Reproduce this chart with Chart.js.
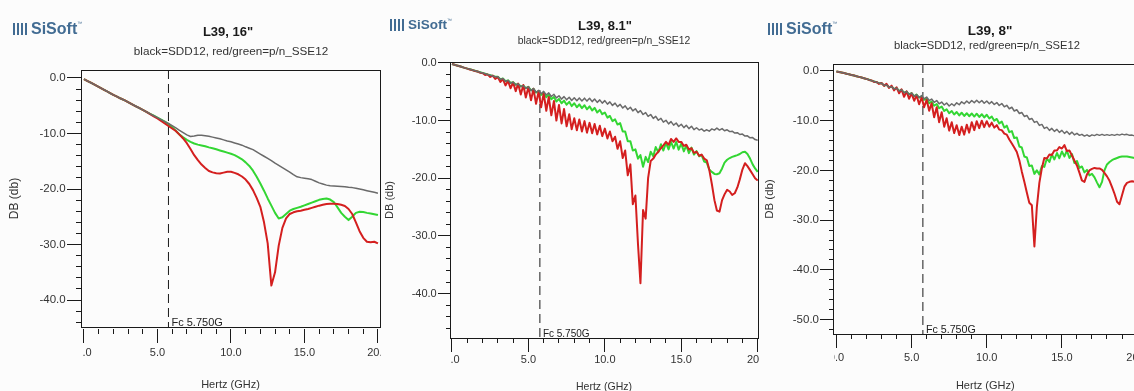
<!DOCTYPE html>
<html>
<head>
<meta charset="utf-8">
<script src="https://cdn.jsdelivr.net/npm/chart.js@4/dist/chart.umd.min.js"></script>
<style>
  html, body { margin: 0; padding: 0; background: #fff; }
  body { width: 1134px; height: 391px; position: relative; overflow: hidden; font-family: "Liberation Sans", Arial, sans-serif; }
  .panel { position: absolute; top: 0; height: 391px; overflow: hidden; background: #fcfcfc; }
  .panel canvas { position: absolute; left: 0; top: 0; }
  .logo { position: absolute; display: flex; align-items: center; color: #426c93; font-weight: bold; line-height: 1; }
  .logo .mark { display: inline-block; width: 14px; height: 12px; margin-right: 4px;
    background: repeating-linear-gradient(90deg, #426c93 0 2px, transparent 2px 4px); }
  .logo sup { font-size: 5px; font-weight: normal; align-self: flex-start; }
  .title, .subtitle { position: absolute; transform: translate(-50%, -50%); white-space: nowrap; line-height: 1; }
  .title { font-weight: bold; color: #1a1a1a; }
  .subtitle { color: #333; }
</style>
</head>
<body>
<div class="panel" style="left:0;width:381px;z-index:1">
  <canvas id="c1" width="420" height="400"></canvas>
  <div class="logo" style="left:13px;top:21px;font-size:16px"><span class="mark"></span>SiSoft<sup>™</sup></div>
  <div class="title" style="left:228px;top:31px;font-size:13px">L39, 16"</div>
  <div class="subtitle" style="left:231px;top:51px;font-size:11.7px">black=SDD12, red/green=p/n_SSE12</div>
</div>
<div class="panel" style="left:381px;width:379px;z-index:2">
  <canvas id="c2" width="420" height="400"></canvas>
  <div class="logo" style="left:9px;top:18px;font-size:13.5px"><span class="mark"></span>SiSoft<sup>™</sup></div>
  <div class="title" style="left:224px;top:25px;font-size:13px">L39, 8.1"</div>
  <div class="subtitle" style="left:223px;top:41px;font-size:10.4px">black=SDD12, red/green=p/n_SSE12</div>
</div>
<div class="panel" style="left:760px;width:374px;z-index:3">
  <canvas id="c3" width="420" height="400"></canvas>
  <div class="logo" style="left:8px;top:21px;font-size:16px"><span class="mark"></span>SiSoft<sup>™</sup></div>
  <div class="title" style="left:230px;top:31px;font-size:13.5px">L39, 8"</div>
  <div class="subtitle" style="left:227px;top:46px;font-size:11.2px">black=SDD12, red/green=p/n_SSE12</div>
</div>

<script>
// cutoff frequency marker (GHz)
const fcFreq = 5.75

// ---- panel 1: L39, 16" (0.25 GHz steps) ----
const p1Freq = [
  0, 0.25, 0.5, 0.75, 1, 1.25, 1.5, 1.75, 2, 2.25, 2.5, 2.75, 3, 3.25, 3.5, 3.75, 4, 4.25, 4.5, 4.75,
  5, 5.25, 5.5, 5.75, 6, 6.25, 6.5, 6.75, 7, 7.25, 7.5, 7.75, 8, 8.25, 8.5, 8.75, 9, 9.25, 9.5, 9.75,
  10, 10.25, 10.5, 10.75, 11, 11.25, 11.5, 11.75, 12, 12.25, 12.5, 12.75, 13, 13.25, 13.5, 13.75, 14, 14.25, 14.5, 14.75,
  15, 15.25, 15.5, 15.75, 16, 16.25, 16.5, 16.75, 17, 17.25, 17.5, 17.75, 18, 18.25, 18.5, 18.75, 19, 19.25, 19.5, 19.75,
  20
]
const p1Sdd = [
  -0.2, -0.55, -0.9, -1.25, -1.6, -1.95, -2.3, -2.7, -3.05, -3.35, -3.7, -4.0, -4.35, -4.7, -5.05, -5.4, -5.75, -6.1, -6.45, -6.8,
  -7.15, -7.5, -7.85, -8.2, -8.6, -9.0, -9.45, -9.85, -10.25, -10.55, -10.45, -10.3, -10.3, -10.4, -10.5, -10.65, -10.8, -10.95, -11.15, -11.35,
  -11.5, -11.7, -11.9, -12.1, -12.4, -12.65, -12.9, -13.3, -13.7, -14.1, -14.5, -14.9, -15.35, -15.75, -16.15, -16.55, -16.95, -17.4, -17.8, -17.95,
  -18.05, -18.15, -18.3, -18.6, -18.9, -19.1, -19.3, -19.4, -19.45, -19.5, -19.55, -19.6, -19.7, -19.75, -19.85, -20.0, -20.15, -20.3, -20.45, -20.6,
  -20.75
]
const p1SseP = [
  -0.2, -0.55, -0.9, -1.25, -1.6, -1.95, -2.3, -2.7, -3.05, -3.35, -3.7, -4.0, -4.35, -4.7, -5.05, -5.4, -5.75, -6.1, -6.5, -6.9,
  -7.3, -7.75, -8.2, -8.65, -9.1, -9.55, -10.2, -10.9, -11.75, -12.8, -13.9, -14.8, -15.6, -16.2, -16.75, -17.0, -17.15, -17.2, -17.05, -16.9,
  -16.9, -17.1, -17.35, -17.75, -18.3, -19.1, -20.2, -21.6, -23.2, -26.0, -29.8, -37.4, -35.0, -30.2, -27.0, -25.3, -24.5, -24.2, -24.0, -23.9,
  -23.75, -23.6, -23.4, -23.2, -23.0, -22.85, -22.7, -22.65, -22.65, -22.7, -22.85, -23.05, -23.6, -24.5, -26.0, -27.6, -28.8, -29.5, -29.6, -29.5,
  -29.8
]
const p1SseN = [
  -0.2, -0.55, -0.9, -1.25, -1.6, -1.95, -2.3, -2.7, -3.05, -3.35, -3.7, -4.0, -4.35, -4.7, -5.05, -5.4, -5.75, -6.1, -6.45, -6.8,
  -7.15, -7.5, -7.85, -8.3, -8.85, -9.5, -10.2, -10.7, -11.15, -11.5, -11.8, -12.0, -12.15, -12.3, -12.5, -12.65, -12.85, -13.05, -13.25, -13.45,
  -13.65, -13.9, -14.25, -14.65, -15.2, -15.85, -16.7, -17.8, -19.0, -20.3, -21.7, -23.0, -24.3, -25.3, -25.1, -24.5, -23.9, -23.6, -23.4, -23.2,
  -22.95, -22.7, -22.45, -22.2, -21.95, -21.8, -21.7, -21.9, -22.35, -23.3, -24.3, -25.0, -25.6, -25.0, -24.3, -24.1, -24.15, -24.3, -24.4, -24.55,
  -24.7
]

// ---- panels 2 and 3 share a 1/6 GHz grid (the ripple needs it) ----
const rippleFreq = [
  0, 0.17, 0.33, 0.5, 0.67, 0.83,
  1, 1.17, 1.33, 1.5, 1.67, 1.83,
  2, 2.17, 2.33, 2.5, 2.67, 2.83,
  3, 3.17, 3.33, 3.5, 3.67, 3.83,
  4, 4.17, 4.33, 4.5, 4.67, 4.83,
  5, 5.17, 5.33, 5.5, 5.67, 5.83,
  6, 6.17, 6.33, 6.5, 6.67, 6.83,
  7, 7.17, 7.33, 7.5, 7.67, 7.83,
  8, 8.17, 8.33, 8.5, 8.67, 8.83,
  9, 9.17, 9.33, 9.5, 9.67, 9.83,
  10, 10.17, 10.33, 10.5, 10.67, 10.83,
  11, 11.17, 11.33, 11.5, 11.67, 11.83,
  12, 12.17, 12.33, 12.5, 12.67, 12.83,
  13, 13.17, 13.33, 13.5, 13.67, 13.83,
  14, 14.17, 14.33, 14.5, 14.67, 14.83,
  15, 15.17, 15.33, 15.5, 15.67, 15.83,
  16, 16.17, 16.33, 16.5, 16.67, 16.83,
  17, 17.17, 17.33, 17.5, 17.67, 17.83,
  18, 18.17, 18.33, 18.5, 18.67, 18.83,
  19, 19.17, 19.33, 19.5, 19.67, 19.83,
  20
]

// ---- panel 2: L39, 8.1" ----
const p2Sdd = [
  -0.2, -0.33, -0.47, -0.6, -0.73, -0.87,
  -1.0, -1.12, -1.25, -1.37, -1.5, -1.62,
  -1.75, -1.88, -2.02, -2.15, -2.28, -2.42,
  -2.4, -2.86, -2.72, -3.18, -3.03, -3.49,
  -3.35, -3.8, -3.65, -4.1, -3.95, -4.4,
  -4.15, -4.8, -4.45, -5.1, -4.75, -5.35,
  -4.95, -5.58, -5.2, -5.83, -5.45, -6.08,
  -5.7, -6.28, -5.85, -6.41, -5.97, -6.51,
  -6.05, -6.57, -6.08, -6.6, -6.12, -6.63,
  -6.15, -6.72, -6.28, -6.85, -6.42, -6.98,
  -6.55, -7.16, -6.77, -7.38, -6.98, -7.59,
  -7.2, -7.83, -7.45, -8.08, -7.7, -8.33,
  -7.95, -8.62, -8.28, -8.95, -8.62, -9.28,
  -8.95, -9.62, -9.28, -9.95, -9.62, -10.28,
  -9.95, -10.57, -10.18, -10.8, -10.42, -11.03,
  -10.65, -11.23, -10.82, -11.4, -10.98, -11.57,
  -11.25, -11.65, -11.45, -11.85, -11.6, -11.85,
  -11.45, -11.65, -11.3, -11.65, -11.4, -11.77,
  -11.6, -11.92, -11.85, -12.17, -12.1, -12.42,
  -12.35, -12.7, -12.65, -13.0, -12.95, -13.3,
  -13.4
]
const p2SseP = [
  -0.2, -0.33, -0.47, -0.6, -0.73, -0.87,
  -1.0, -1.15, -1.25, -1.42, -1.5, -1.7,
  -1.75, -2.1, -2.0, -2.45, -2.2, -2.8,
  -2.5, -3.3, -2.8, -3.9, -3.15, -4.4,
  -3.4, -4.9, -3.6, -5.5, -3.85, -6.0,
  -4.2, -6.5, -4.5, -7.1, -4.9, -7.7,
  -5.3, -8.3, -5.9, -9.1, -6.6, -10.0,
  -7.3, -10.5, -8.0, -11.0, -8.9, -11.5,
  -9.6, -11.7, -9.8, -11.9, -10.1, -12.1,
  -10.4, -12.2, -10.6, -12.4, -10.9, -12.7,
  -11.4, -13.1, -11.9, -13.6, -12.8, -14.9,
  -13.6, -16.5, -15.2, -19.5, -17.6, -24.5,
  -23.0, -31.5, -38.2, -25.5, -27.0, -20.0,
  -17.0, -16.6, -15.9, -15.4, -14.8, -14.3,
  -13.7, -14.2, -13.2, -13.7, -13.1, -13.7,
  -13.7, -14.4, -14.2, -15.0, -14.8, -15.6,
  -15.4, -16.1, -15.9, -16.6, -16.9, -18.5,
  -21.0, -23.8, -25.6, -25.8, -23.8, -22.8,
  -22.0, -22.3, -22.9, -22.6, -21.6, -20.2,
  -18.5, -17.4, -17.9, -18.6, -19.3, -20.0,
  -20.4
]
const p2SseN = [
  -0.2, -0.33, -0.47, -0.6, -0.73, -0.87,
  -1.0, -1.12, -1.25, -1.37, -1.5, -1.62,
  -1.75, -1.88, -2.02, -2.15, -2.28, -2.42,
  -2.4, -2.86, -2.72, -3.18, -3.03, -3.49,
  -3.35, -3.8, -3.65, -4.1, -3.95, -4.4,
  -4.15, -4.8, -4.5, -5.15, -4.9, -5.55,
  -5.2, -5.95, -5.5, -6.3, -5.9, -6.7,
  -6.25, -7.0, -6.55, -7.25, -6.75, -7.5,
  -7.0, -7.7, -7.2, -7.85, -7.35, -8.05,
  -7.55, -8.25, -7.8, -8.6, -8.15, -8.9,
  -8.6, -9.5, -9.2, -10.1, -9.8, -10.7,
  -10.45, -11.9, -11.9, -13.6, -13.6, -15.2,
  -15.0, -16.6, -16.0, -18.0, -16.3, -17.2,
  -15.4, -16.2, -14.6, -15.5, -14.1, -15.2,
  -13.9, -15.0, -13.7, -14.85, -13.7, -15.05,
  -14.0, -15.35, -14.3, -15.65, -14.7, -15.9,
  -15.3, -16.2, -16.0, -17.1, -17.3, -18.5,
  -18.9, -19.25, -19.3, -19.14, -18.3, -17.3,
  -16.8, -16.5, -16.3, -16.15, -16.0, -15.8,
  -15.5, -15.4, -15.8, -16.6, -17.6, -18.3,
  -18.9
]

// ---- panel 3: L39, 8" ----
const p3Sdd = [
  -0.1, -0.2, -0.3, -0.42, -0.55, -0.68,
  -0.8, -0.93, -1.06, -1.19, -1.32, -1.45,
  -1.6, -1.77, -1.94, -2.11, -2.28, -2.45,
  -2.45, -2.93, -2.8, -3.27, -3.15, -3.62,
  -3.45, -4.02, -3.8, -4.37, -4.15, -4.72,
  -4.45, -5.1, -4.75, -5.35, -4.95, -5.6,
  -5.25, -5.95, -5.65, -6.3, -5.95, -6.6,
  -6.25, -6.85, -6.45, -7.05, -6.6, -7.0,
  -6.4, -6.8, -6.2, -6.6, -6.05, -6.5,
  -5.95, -6.4, -5.9, -6.4, -5.95, -6.5,
  -6.05, -6.6, -6.17, -6.75, -6.35, -6.95,
  -6.55, -7.2, -6.9, -7.6, -7.3, -8.05,
  -7.8, -8.55, -8.35, -9.15, -8.95, -9.75,
  -9.55, -10.35, -10.15, -10.95, -10.75, -11.55,
  -11.3, -11.95, -11.55, -12.15, -11.75, -12.35,
  -11.95, -12.55, -12.15, -12.75, -12.3, -12.85,
  -12.55, -12.95, -12.75, -13.1, -12.85, -13.15,
  -12.85, -13.0, -12.75, -12.95, -12.75, -12.95,
  -12.8, -12.95, -12.8, -12.95, -12.75, -12.9,
  -12.7, -12.85, -12.75, -12.95, -12.9, -13.05,
  -13.0
]
const p3SseP = [
  -0.1, -0.2, -0.3, -0.42, -0.55, -0.68,
  -0.8, -0.93, -1.06, -1.19, -1.32, -1.45,
  -1.6, -1.8, -1.9, -2.2, -2.2, -2.6,
  -2.4, -3.0, -2.6, -3.4, -2.95, -3.9,
  -3.3, -4.5, -3.7, -5.2, -4.1, -5.6,
  -4.5, -6.0, -4.9, -6.7, -5.3, -7.3,
  -5.8, -8.0, -6.5, -9.3, -7.3, -10.3,
  -8.3, -11.2, -9.5, -12.0, -10.3, -12.5,
  -10.9, -12.9, -11.2, -12.8, -10.8, -12.4,
  -10.3, -11.9, -10.1, -11.5, -10.0, -11.3,
  -10.1, -11.2, -10.4, -11.4, -10.9, -11.8,
  -11.9, -12.6, -12.8, -13.8, -14.6, -15.4,
  -16.3, -18.0, -20.2, -22.3, -24.5, -26.5,
  -27.0, -35.3, -27.5, -22.5, -19.5, -17.5,
  -17.6, -16.8, -16.9, -16.0, -16.0, -15.3,
  -15.6, -14.9, -16.1, -16.0, -17.0, -18.0,
  -19.0, -20.5, -22.0, -22.3, -20.8, -20.0,
  -19.7, -19.5, -19.6, -19.6, -19.9, -20.5,
  -21.2, -22.1, -23.3, -24.7, -26.3, -26.8,
  -25.0, -23.2, -22.5, -22.3, -22.2, -22.3,
  -22.4
]
const p3SseN = [
  -0.1, -0.2, -0.3, -0.42, -0.55, -0.68,
  -0.8, -0.93, -1.06, -1.19, -1.32, -1.45,
  -1.6, -1.77, -1.94, -2.11, -2.28, -2.45,
  -2.45, -2.93, -2.8, -3.27, -3.15, -3.62,
  -3.45, -4.02, -3.8, -4.37, -4.15, -4.72,
  -4.45, -5.1, -4.75, -5.35, -5.1, -5.8,
  -5.65, -6.5, -6.15, -7.0, -6.65, -7.5,
  -7.15, -8.05, -7.7, -8.5, -8.05, -8.75,
  -8.25, -8.95, -8.4, -9.05, -8.5, -9.1,
  -8.55, -9.17, -8.6, -9.25, -8.7, -9.35,
  -8.8, -9.55, -9.15, -10.0, -9.65, -10.55,
  -10.2, -11.4, -11.0, -12.3, -12.1, -13.5,
  -13.4, -15.2, -15.4, -17.2, -17.4, -19.1,
  -19.0, -20.7, -20.0, -20.8, -19.1, -19.3,
  -17.6, -18.3, -16.8, -17.8, -16.5, -17.55,
  -16.2, -17.2, -16.0, -17.5, -16.7, -18.5,
  -18.1, -19.5, -19.2, -20.4, -19.9, -21.0,
  -20.7, -21.4, -22.4, -23.4, -22.3, -20.0,
  -18.8, -18.3, -17.95, -17.7, -17.5, -17.3,
  -17.2, -17.2, -17.2, -17.3, -17.4, -17.5,
  -17.6
]

const axisColor = '#1a1a1a'
const labelColor = '#333'
const fontFamily = '"Liberation Sans", Arial, sans-serif'

// Plot frame + "Fc" note; also clips the left half of the first x label like the screenshots do
const framePlugin = {
  id: 'frame',
  beforeDraw(chart) {
    const { ctx, chartArea: a } = chart
    ctx.save()
    ctx.beginPath()
    ctx.rect(0, 0, chart.width, a.bottom)
    ctx.rect(a.left + 1, a.bottom, chart.width - a.left - 1, chart.height - a.bottom)
    ctx.clip()
  },
  afterDraw(chart, args, opts) {
    const { ctx, chartArea: a } = chart
    ctx.restore()
    ctx.save()
    ctx.strokeStyle = axisColor
    ctx.lineWidth = 1
    ctx.strokeRect(Math.round(a.left) + 0.5, Math.round(a.top) + 0.5,
      Math.round(a.right - a.left), Math.round(a.bottom - a.top))
    const x = chart.scales.x.getPixelForValue(opts.fcFreq)
    ctx.fillStyle = '#222'
    ctx.font = opts.fcSize + 'px ' + fontFamily
    ctx.textBaseline = 'middle'
    ctx.fillText('Fc ' + opts.fcFreq.toFixed(3) + 'G', x + 3, a.bottom - 4)
    ctx.restore()
  }
}

function buildChart(canvasId, p) {
  const ctx = document.getElementById(canvasId).getContext('2d')
  const toPoints = (vals) => p.freq.map((f, i) => ({ x: f, y: vals[i] }))
  const fmt = (v) => Number(v).toFixed(1)

  return new Chart(ctx, {
    type: 'line',
    data: {
      datasets: [
        { label: 'SDD12', data: toPoints(p.sdd), borderColor: '#6a6a6a', borderWidth: 1.5 },
        { label: 'p_SSE12', data: toPoints(p.sseP), borderColor: '#d41f1f', borderWidth: 2 },
        { label: 'n_SSE12', data: toPoints(p.sseN), borderColor: '#33d633', borderWidth: 2 },
        { label: 'Fc', data: [{ x: fcFreq, y: p.yMax }, { x: fcFreq, y: p.yMin }],
          borderColor: axisColor, borderWidth: 1, borderDash: [9, 5] }
      ]
    },
    options: {
      responsive: false,
      animation: false,
      events: [],
      elements: {
        point: { radius: 0 },
        line: { tension: 0, fill: false, borderJoinStyle: 'round' }
      },
      layout: { padding: { left: 0, top: p.top, right: p.padRight, bottom: 0 } },
      plugins: {
        legend: { display: false },
        tooltip: { enabled: false },
        frame: { fcFreq: fcFreq, fcSize: p.fcSize }
      },
      scales: {
        x: {
          type: 'linear', position: 'bottom', min: p.xMin, max: p.xMax,
          afterFit: (s) => { s.height = p.xAxisHeight },
          border: { display: true, color: 'rgba(0,0,0,0)', width: p.xGap },
          grid: { drawOnChartArea: false, tickLength: p.xTick, color: axisColor },
          ticks: {
            stepSize: 5, autoSkip: false, includeBounds: false, maxRotation: 0,
            padding: p.xLabelPad, color: labelColor,
            font: { family: fontFamily, size: p.xTickSize }, callback: fmt
          },
          title: {
            display: true, text: 'Hertz (GHz)', color: labelColor,
            font: { family: fontFamily, size: p.xTitleSize },
            padding: { top: 0, bottom: p.xTitlePad }
          }
        },
        xm: {
          type: 'linear', axis: 'x', position: { y: p.yMin }, min: p.xMin, max: p.xMax,
          border: { display: true, color: 'rgba(0,0,0,0)', width: p.xGap },
          grid: { drawOnChartArea: false, tickLength: p.minorTick, color: axisColor },
          ticks: { stepSize: 1, display: false, autoSkip: false, includeBounds: false }
        },
        y: {
          type: 'linear', position: 'left', min: p.yMin, max: p.yMax,
          afterFit: (s) => { s.width = p.yAxisWidth },
          border: { display: false },
          grid: { drawOnChartArea: false, tickLength: p.yTick, color: axisColor },
          ticks: {
            stepSize: 10, autoSkip: false, includeBounds: false,
            padding: p.yLabelPad, color: labelColor,
            font: { family: fontFamily, size: p.yTickSize }, callback: fmt
          },
          title: {
            display: true, text: 'DB (db)', color: labelColor,
            font: { family: fontFamily, size: p.yTitleSize },
            padding: { top: p.yTitlePad, bottom: 0 }
          }
        },
        ym: {
          type: 'linear', axis: 'y', position: { x: p.xMin }, min: p.yMin, max: p.yMax,
          border: { display: false },
          grid: { drawOnChartArea: false, tickLength: p.minorTick, color: axisColor },
          ticks: { stepSize: 2, display: false, autoSkip: false, includeBounds: false }
        }
      }
    },
    plugins: [framePlugin]
  })
}

buildChart('c1', {
  freq: p1Freq, sdd: p1Sdd, sseP: p1SseP, sseN: p1SseN,
  xMin: -0.2, xMax: 20.14, yMin: -44.86, yMax: 1.44,
  top: 70, padRight: 40, yAxisWidth: 81, xAxisHeight: 73,
  xGap: 4, xTick: 16, minorTick: 5, yTick: 14,
  xLabelPad: 3.7, yLabelPad: 1.3, xTickSize: 11, yTickSize: 11.5,
  xTitleSize: 11, yTitleSize: 12, xTitlePad: 8.4, yTitlePad: 7.8, fcSize: 11
})

buildChart('c2', {
  freq: rippleFreq, sdd: p2Sdd, sseP: p2SseP, sseN: p2SseN,
  xMin: -0.13, xMax: 20.02, yMin: -47.7, yMax: 0.15,
  top: 62, padRight: 43, yAxisWidth: 69, xAxisHeight: 62,
  xGap: 2, xTick: 14, minorTick: 4, yTick: 12,
  xLabelPad: 1.4, yLabelPad: 1.3, xTickSize: 11, yTickSize: 11,
  xTitleSize: 10.5, yTitleSize: 11, xTitlePad: 6.7, yTitlePad: 2.4, fcSize: 10
})

buildChart('c3', {
  freq: rippleFreq, sdd: p3Sdd, sseP: p3SseP, sseN: p3SseN,
  xMin: -0.23, xMax: 20.03, yMin: -52.9, yMax: 1.4,
  top: 64, padRight: 42.5, yAxisWidth: 73, xAxisHeight: 66,
  xGap: 2, xTick: 14, minorTick: 4, yTick: 13,
  xLabelPad: 3.4, yLabelPad: 1, xTickSize: 11, yTickSize: 11.5,
  xTitleSize: 11, yTitleSize: 11.5, xTitlePad: 7.1, yTitlePad: 3.1, fcSize: 10.7
})
</script>
</body>
</html>
